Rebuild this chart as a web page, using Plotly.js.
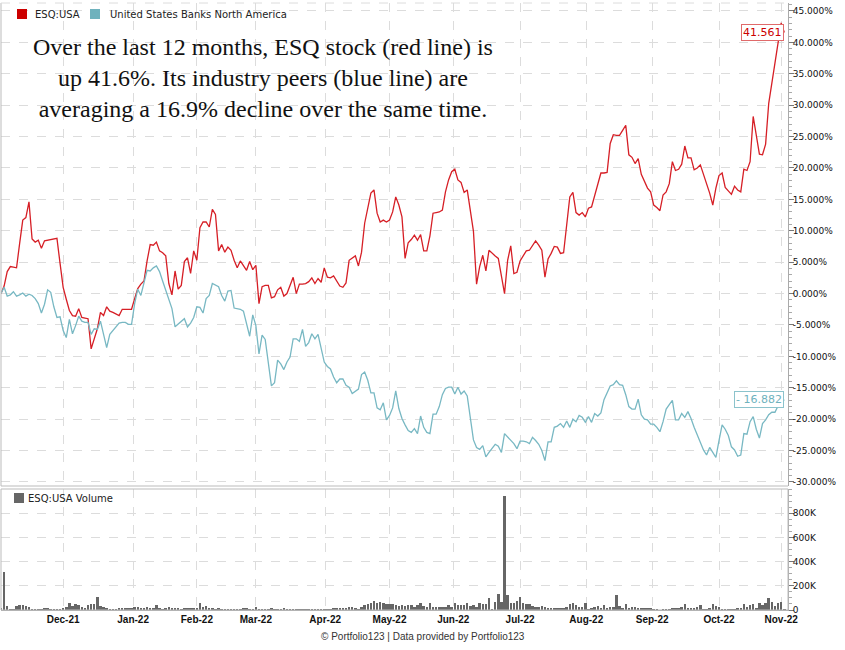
<!DOCTYPE html>
<html>
<head>
<meta charset="utf-8">
<script src="https://cdn.plot.ly/plotly-3.0.1.min.js"></script>
<style>html,body{margin:0;padding:0;background:#fff}#chart{width:845px;height:650px}</style>
</head>
<body>
<div id="chart"></div>
<script>
// ESQ:USA cumulative % change (one value per trading day, Nov-2021 .. Nov-2022)
const esqPct = [
 0,1.2,3.5,4.3,4.2,4.1,8.0,11.7,12.1,14.6,
 8.7,8.2,8.5,7.2,8.4,8.5,8.6,8.7,8.8,4.8,
 1.0,-0.9,-2.7,-3.5,-3.6,-2.4,-3.8,-3.9,-4.0,-8.8,
 -7.2,-5.6,-3.0,-3.5,-2.1,-2.8,-3.0,-3.3,-3.5,-2.5,
 -2.5,-2.5,-2.5,-0.8,0.8,1.5,2.0,5.2,7.8,7.7,
 8.2,6.8,6.5,6.0,1.6,-0.2,3.6,0.7,1.3,5.1,
 5.7,3.2,6.8,5.3,10.5,11.4,11.4,10.6,13.4,12.6,
 6.8,7.8,6.6,7.4,6.9,5.3,4.1,5.2,4.5,3.7,
 5.1,3.8,4.5,-1.6,1.1,1.3,1.3,-0.7,-0.5,0.6,
 1.0,-0.4,0,1.2,2.6,0,1.5,1.5,1.6,1.9,
 2.5,1.6,2.4,1.8,4.1,2.6,2.5,2.8,2.0,1.2,
 1.0,1.7,5.3,5.7,6.0,4.4,6.6,11.2,13.5,16.0,
 16.5,12.8,11.4,11.7,11.4,11.7,13.0,15.4,14.1,12.2,
 5.6,8.1,8.6,9.3,8.5,9.4,6.8,6.8,9.2,12.8,
 12.9,13.0,13.3,16.2,18.1,19.4,19.8,18.1,17.7,16.1,
 16.5,12.8,9.9,1.5,4.3,6.1,3.6,6.9,6.4,6.0,
 5.6,3.0,0.0,5.3,7.6,3.2,3.4,5.2,6.0,6.8,
 6.9,7.7,8.4,7.7,6.9,2.6,5.5,6.4,7.5,7.4,
 6.4,6.5,11.2,15.4,16.1,12.9,12.5,12.9,12.2,13.6,
 13.8,15.5,17.5,19.2,19.2,19.3,23.9,25.3,25.2,25.2,
 26.0,26.8,22.1,21.7,20.7,21.5,19.0,17.8,16.8,16.2,
 14.1,13.7,13.2,15.7,16.2,17.5,21.0,19.6,19.8,20.6,
 23.5,21.6,21.6,19.7,20.0,20.5,19.1,17.5,16.0,14.1,
 16.8,18.8,19.2,16.9,16.4,15.8,17.1,16.5,16.2,19.8,
 19.6,21.0,28.2,25.3,22.2,22.1,23.8,30.3,33.6,37.2,
 40.4,43.1,41.561
];
// United States Banks North America cumulative % change
const banksPct = [
 0,1.0,-0.4,-0.2,0.3,-0.4,-0.2,0.1,-0.4,-0.1,
 -0.3,-0.8,-1.6,-3.1,-1.7,0.6,0.2,-2.1,-3.8,-3.7,
 -5.9,-7.0,-4.1,-6.4,-5.1,-3.6,-4.4,-4.6,-4.6,-6.5,
 -5.6,-5.7,-4.4,-6.5,-8.6,-6.5,-5.9,-5.3,-4.7,-4.6,
 -4.6,-4.9,-4.9,-1.6,0.7,-0.3,1.5,3.7,3.6,4.1,
 4.4,3.5,2.0,0.5,-1.0,-2.4,-5.3,-4.9,-4.4,-4.0,
 -5.3,-4.7,-3.8,-2.1,-2.2,-3.1,-0.8,-0.3,1.6,1.3,
 1.1,-0.3,-1.2,0.4,0.5,-2.3,-2.4,-2.5,-2.8,-4.8,
 -6.8,-3.4,-5.1,-9.6,-6.6,-7.3,-11.3,-14.7,-14.2,-10.6,
 -11.2,-12.1,-10.9,-10.1,-7.2,-7.2,-7.6,-5.7,-8.4,-7.8,
 -6.4,-7.2,-6.5,-8.7,-10.9,-11.6,-12.0,-13.3,-14.2,-13.6,
 -13.6,-14.6,-14.9,-15.9,-15.5,-15.2,-12.9,-12.5,-13.8,-15.8,
 -15.8,-18.2,-18.5,-17.4,-20.1,-19.4,-18.2,-15.5,-18.3,-19.9,
 -20.9,-21.8,-22.1,-21.5,-22.3,-19.5,-21.3,-22.1,-22.3,-19.2,
 -19.2,-18.0,-16.1,-15.1,-14.9,-14.9,-16.0,-14.9,-16.0,-15.5,
 -16.3,-20.1,-23.3,-24.5,-24.8,-24.2,-26.0,-25.3,-24.6,-24.0,
 -24.3,-25.3,-22.3,-22.8,-23.4,-23.9,-24.7,-23.5,-23.5,-23.6,
 -23.9,-22.9,-23.4,-24.0,-25.0,-26.6,-23.6,-23.6,-21.3,-21.1,
 -20.7,-21.3,-20.3,-21.3,-20.0,-20.4,-19.4,-19.7,-20.5,-19.6,
 -20.5,-19.1,-19.5,-19.0,-16.9,-15.9,-14.7,-14.5,-13.9,-14.5,
 -14.6,-16.1,-18.0,-18.4,-18.4,-16.8,-19.3,-20.0,-20.1,-20.8,
 -20.8,-21.3,-22.0,-20.4,-18.4,-17.7,-17.0,-20.1,-20.1,-19.1,
 -19.7,-18.8,-19.9,-21.3,-22.5,-23.7,-24.9,-25.7,-24.5,-25.3,
 -26.1,-23.4,-20.9,-21.6,-22.6,-24.4,-24.9,-25.9,-25.7,-22.3,
 -22.4,-20.4,-19.6,-21.6,-23.0,-20.7,-20.1,-19.3,-18.9,-18.9,
 -17.9,-17.5,-16.882
];
// ESQ:USA daily volume, thousands of shares
const esqVolumeK = [
 15,310,35,12,10,30,40,40,30,28,
 10,5,5,6,14,14,8,5,5,12,
 19,25,55,33,52,39,28,19,39,47,
 52,107,33,25,17,8,6,8,19,19,
 17,19,15,28,28,20,19,22,15,14,
 41,19,12,15,25,19,14,17,12,19,
 19,17,19,17,55,28,33,19,14,12,
 17,11,11,9,11,8,5,12,15,17,
 12,11,25,8,10,8,12,14,11,8,
 8,17,9,6,8,9,8,8,6,8,
 8,6,9,11,8,11,12,14,19,17,
 19,17,28,22,19,12,25,41,52,61,
 72,61,69,55,52,47,52,44,33,39,
 33,39,41,28,39,61,33,22,61,28,
 25,22,22,28,39,25,55,39,39,41,
 61,36,41,25,58,52,47,102,8,66,
 130,66,942,124,55,60,74,110,61,47,
 47,33,28,28,33,28,19,17,19,17,
 17,19,28,52,61,39,25,28,55,11,
 17,28,33,19,41,14,25,28,124,33,
 19,47,17,22,22,19,19,19,17,14,
 11,8,2,12,12,11,14,19,17,22,
 47,17,19,19,22,39,11,8,17,47,
 33,22,12,11,8,11,11,19,17,47,
 28,39,47,19,61,44,55,102,66,33,
 55,63,11
];
// Month tick labels and their trading-day positions
const monthLabels = ['Dec-21','Jan-22','Feb-22','Mar-22','Apr-22','May-22','Jun-22','Jul-22','Aug-22','Sep-22','Oct-22','Nov-22'];
const monthTickDay = [20,42.5,63,82,104.3,125,145.5,167,188.3,209.5,231,251];
const pctTicks = [-30,-25,-20,-15,-10,-5,0,5,10,15,20,25,30,35,40,45];
const volTicks = [0,200,400,600,800];
const seriesNames = ['ESQ:USA', 'United States Banks North America', 'ESQ:USA Volume'];
const headline = 'Over the last 12 months, ESQ stock (red line) is<br>up 41.6%. Its industry peers (blue line) are<br>averaging a 16.9% decline over the same time.';

const days = esqPct.map((_, i) => i);
const lastDay = days[days.length - 1];
const RED = '#d61f26', TEAL = '#78b8c3';
const LEG_RED = '#cc0000', LEG_TEAL = '#6fb2bd', VOL = '#666666';

const traces = [
  {x: days, y: esqPct, type: 'scatter', mode: 'lines', xaxis: 'x2', yaxis: 'y', name: seriesNames[0],
   line: {color: RED, width: 1.3}, hoverinfo: 'skip'},
  {x: days, y: banksPct, type: 'scatter', mode: 'lines', xaxis: 'x2', yaxis: 'y', name: seriesNames[1],
   line: {color: TEAL, width: 1.3}, hoverinfo: 'skip'},
  {x: days, y: esqVolumeK.map(v => v * 1000), type: 'bar', xaxis: 'x', yaxis: 'y2', name: seriesNames[2],
   marker: {color: VOL, line: {width: 0}}, width: 0.8, hoverinfo: 'skip'}
];

// helpers: convert a pixel position on the 845x650 canvas to paper coordinates
const ML = 1, MR = 57, MT = 3, MB = 40, W = 845, H = 650;
const PW = W - ML - MR, PH = H - MT - MB;
const px = v => (v - ML) / PW;
const py = v => (H - MB - v) / PH;

const gridX = {tickvals: monthTickDay, showgrid: true, gridcolor: '#dcdcdc', griddash: 'dash', gridwidth: 1,
  range: [0, 253.2], zeroline: false, fixedrange: true};
const yTickFont = {family: 'DejaVu Sans', size: 9, color: '#111'};
const legFont = {family: 'DejaVu Sans', size: 10, color: '#222'};

function legendSquare(x0, y0, color) {
  return {type: 'rect', xref: 'paper', yref: 'paper', x0: px(x0), x1: px(x0 + 10), y0: py(y0 + 10), y1: py(y0),
    fillcolor: color, line: {width: 0}};
}
function legendText(x, y, text) {
  return {text: text, xref: 'paper', yref: 'paper', x: px(x), y: py(y), xanchor: 'left', yanchor: 'middle',
    showarrow: false, font: legFont, borderpad: 0};
}

const layout = {
  width: W, height: H,
  margin: {l: ML, r: MR, t: MT, b: MB},
  paper_bgcolor: '#fff', plot_bgcolor: '#fff',
  showlegend: false,
  bargap: 0,
  xaxis: Object.assign({}, gridX, {anchor: 'y2', domain: [0, 1], ticktext: monthLabels, ticks: '',
    showticklabels: true, tickfont: {family: 'Liberation Sans', size: 10, color: '#111', weight: 'bold'},
    showline: true, linecolor: '#aaa', linewidth: 1}),
  xaxis2: Object.assign({}, gridX, {anchor: 'y', domain: [0, 1], matches: 'x', showticklabels: false, ticks: '',
    showline: false}),
  yaxis: {domain: [py(486), 1], anchor: 'x2', side: 'right', range: [-30.64, 46.27],
    tickvals: pctTicks, ticktext: pctTicks.map(v => v.toFixed(3) + '%'),
    ticks: 'outside', ticklen: 5, tickcolor: '#777', tickfont: yTickFont, ticklabelstandoff: -3,
    minor: {dtick: 1, ticks: 'outside', ticklen: 3, tickcolor: '#aaa', showgrid: false},
    showgrid: true, gridcolor: '#dcdcdc', griddash: 'dash', zeroline: false,
    showline: true, linecolor: '#aaa', linewidth: 1, fixedrange: true},
  yaxis2: {domain: [0, py(489)], anchor: 'x', side: 'right', range: [0, 1000000],
    tickvals: volTicks.map(v => v * 1000), ticktext: volTicks.map(v => v === 0 ? '0' : v + 'K'),
    ticks: 'outside', ticklen: 5, tickcolor: '#777', tickfont: yTickFont, ticklabelstandoff: -3,
    minor: {dtick: 50000, ticks: 'outside', ticklen: 3, tickcolor: '#aaa', showgrid: false},
    showgrid: true, gridcolor: '#dcdcdc', griddash: 'dash', zeroline: false,
    showline: true, linecolor: '#aaa', linewidth: 1, fixedrange: true},
  shapes: [
    // panel frames
    {type: 'line', xref: 'x domain', yref: 'y domain', x0: 0, x1: 0, y0: 0, y1: 1, line: {color: '#bbb', width: 1}},
    {type: 'line', xref: 'x domain', yref: 'y domain', x0: 0, x1: 1, y0: 0, y1: 0, line: {color: '#bbb', width: 1}},
    {type: 'line', xref: 'x domain', yref: 'y domain', x0: 0, x1: 1, y0: 1, y1: 1, line: {color: '#dcdcdc', width: 1, dash: 'dash'}},
    {type: 'rect', xref: 'x domain', yref: 'y2 domain', x0: 0, x1: 1, y0: 0, y1: 1, line: {color: '#bbb', width: 1}},
    // legend squares
    legendSquare(17, 9, LEG_RED),
    legendSquare(90, 9, LEG_TEAL),
    legendSquare(14, 493, VOL)
  ],
  annotations: [
    legendText(34, 14, seriesNames[0]),
    legendText(109, 14, seriesNames[1]),
    legendText(27, 498.5, seriesNames[2]),
    {text: headline, xref: 'paper', yref: 'paper', x: px(263), y: py(78), xanchor: 'center', yanchor: 'middle',
     showarrow: false, align: 'center', font: {family: 'Liberation Serif', size: 24, color: '#111'}},
    {text: esqPct[lastDay].toFixed(3), xref: 'x2', yref: 'y', x: lastDay, y: esqPct[lastDay], xanchor: 'right', yanchor: 'middle',
     showarrow: false, font: {family: 'DejaVu Sans', size: 11, color: '#cc0000'}, bgcolor: '#fff',
     bordercolor: '#e06a6a', borderwidth: 1, borderpad: 1},
    {text: '- ' + Math.abs(banksPct[lastDay]).toFixed(3), xref: 'x2', yref: 'y', x: lastDay, y: banksPct[lastDay], xanchor: 'right', yanchor: 'middle',
     showarrow: false, font: {family: 'DejaVu Sans', size: 11, color: '#6fb2bd'}, bgcolor: '#fff',
     bordercolor: '#8cc3cc', borderwidth: 1, borderpad: 1},
    {text: '© Portfolio123 | Data provided by Portfolio123', xref: 'paper', yref: 'paper', x: px(423), y: py(637),
     xanchor: 'center', yanchor: 'middle', showarrow: false, font: {family: 'Liberation Sans', size: 10, color: '#333'}}
  ]
};

Plotly.newPlot('chart', traces, layout, {displayModeBar: false, staticPlot: true});
</script>
</body>
</html>
